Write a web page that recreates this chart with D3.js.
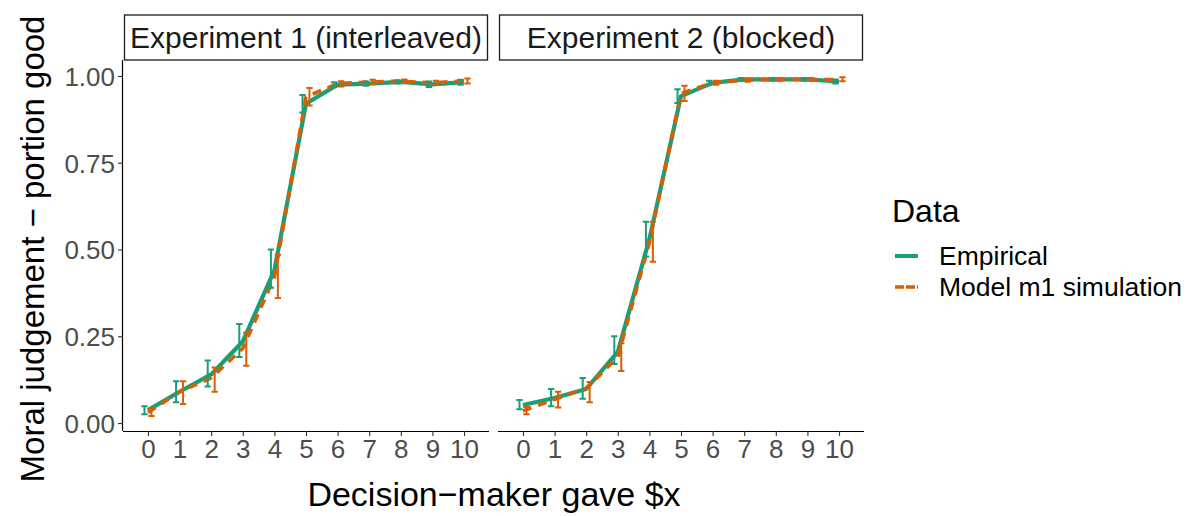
<!DOCTYPE html>
<html>
<head>
<meta charset="utf-8">
<script src="https://cdn.jsdelivr.net/npm/d3@7"></script>
<style>
  html, body { margin: 0; padding: 0; background: #ffffff; }
  svg { display: block; font-family: "Liberation Sans", Arial, Helvetica, sans-serif; }
</style>
</head>
<body>
<svg id="chart" width="1195" height="516"></svg>
<script>
// Amount given by the decision-maker ($0 to $10)
const amounts = [0, 1, 2, 3, 4, 5, 6, 7, 8, 9, 10];
const xTickLabels = ["0", "1", "2", "3", "4", "5", "6", "7", "8", "9", "10"];
const yTicks = [0, 0.25, 0.5, 0.75, 1];
const yTickLabels = ["0.00", "0.25", "0.50", "0.75", "1.00"];
const panelTitles = ["Experiment 1 (interleaved)", "Experiment 2 (blocked)"];
const seriesNames = ["Empirical", "Model m1 simulation"];

// Experiment 1 (interleaved): proportion judged "good", with interval bounds
const emp1   = [0.037, 0.090, 0.140, 0.235, 0.440, 0.920, 0.975, 0.978, 0.983, 0.976, 0.982];
const emp1Lo = [0.025, 0.060, 0.105, 0.190, 0.390, 0.895, 0.968, 0.972, 0.978, 0.968, 0.975];
const emp1Hi = [0.048, 0.120, 0.180, 0.285, 0.500, 0.945, 0.982, 0.984, 0.988, 0.984, 0.989];
const mod1   = [0.030, 0.090, 0.130, 0.215, 0.420, 0.940, 0.978, 0.983, 0.985, 0.980, 0.986];
const mod1Lo = [0.020, 0.055, 0.090, 0.165, 0.360, 0.915, 0.970, 0.977, 0.980, 0.974, 0.978];
const mod1Hi = [0.042, 0.120, 0.160, 0.260, 0.485, 0.965, 0.985, 0.989, 0.990, 0.986, 0.993];

// Experiment 2 (blocked)
const emp2   = [0.052, 0.072, 0.098, 0.205, 0.530, 0.942, 0.980, 0.990, 0.990, 0.990, 0.984];
const emp2Lo = [0.040, 0.048, 0.070, 0.170, 0.480, 0.922, 0.975, 0.986, 0.986, 0.986, 0.978];
const emp2Hi = [0.066, 0.098, 0.130, 0.250, 0.580, 0.962, 0.986, 0.994, 0.994, 0.994, 0.990];
const mod2   = [0.035, 0.068, 0.100, 0.190, 0.520, 0.950, 0.980, 0.988, 0.990, 0.990, 0.990];
const mod2Lo = [0.025, 0.045, 0.060, 0.150, 0.465, 0.928, 0.975, 0.983, 0.986, 0.986, 0.985];
const mod2Hi = [0.046, 0.090, 0.118, 0.230, 0.580, 0.972, 0.986, 0.993, 0.994, 0.994, 0.996];

const colors = ["#1b9e77", "#d95f02"];
const dodge = [-0.11, 0.11];   // error bars are dodged, lines are not
const capHalf = 0.1;

const panels = [
  { title: panelTitles[0], series: [
      { mean: emp1, lo: emp1Lo, hi: emp1Hi },
      { mean: mod1, lo: mod1Lo, hi: mod1Hi } ] },
  { title: panelTitles[1], series: [
      { mean: emp2, lo: emp2Lo, hi: emp2Hi },
      { mean: mod2, lo: mod2Lo, hi: mod2Hi } ] }
];

const svg = d3.select("#chart");
const panelLeft = [123, 498];
const panelW = 366;
const plotTop = 60, plotBottom = 431;
const stripTop = 15;

const y = d3.scaleLinear().domain([-0.023, 1.046]).range([plotBottom, plotTop]);

panels.forEach((p, i) => {
  const left = panelLeft[i];
  const x = d3.scaleLinear().domain([-0.79, 10.79]).range([left, left + panelW]);
  const g = svg.append("g");

  // Facet strip
  g.append("rect")
    .attr("x", left + 1.5).attr("y", stripTop)
    .attr("width", panelW - 3).attr("height", plotTop - stripTop)
    .attr("fill", "#ffffff").attr("stroke", "#1a1a1a").attr("stroke-width", 1.3);
  g.append("text")
    .attr("x", left + panelW / 2).attr("y", stripTop + 33)
    .attr("text-anchor", "middle").attr("font-size", 30).attr("fill", "#1a1a1a")
    .text(p.title);

  // Bottom axis
  const xAxis = d3.axisBottom(x).tickValues(amounts)
    .tickFormat((d, k) => xTickLabels[k]).tickSize(5).tickPadding(4);
  const gx = g.append("g").attr("transform", `translate(0,${plotBottom})`).call(xAxis);
  gx.select(".domain").attr("stroke", "#000").attr("stroke-width", 1.2)
    .attr("d", `M${left},0.5H${left + panelW}`);
  gx.selectAll(".tick line").attr("stroke", "#333").attr("stroke-width", 1.1);
  gx.selectAll(".tick text").attr("font-size", 26).attr("fill", "#4d4d4d")
    .attr("font-family", "\"Liberation Sans\", Arial, sans-serif");

  // Left axis only on the first panel
  if (i === 0) {
    const yAxis = d3.axisLeft(y).tickValues(yTicks)
      .tickFormat((d, k) => yTickLabels[k]).tickSize(5).tickPadding(3);
    const gy = g.append("g").attr("transform", `translate(${left},0)`).call(yAxis);
    gy.select(".domain").attr("stroke", "#000").attr("stroke-width", 1.2)
      .attr("d", `M-0.5,${plotTop}V${plotBottom}`);
    gy.selectAll(".tick line").attr("stroke", "#333").attr("stroke-width", 1.1);
    gy.selectAll(".tick text").attr("font-size", 26).attr("fill", "#4d4d4d")
      .attr("dy", "0.36em")
      .attr("font-family", "\"Liberation Sans\", Arial, sans-serif");
  }

  // Lines (model dashed, drawn over empirical)
  p.series.forEach((s, si) => {
    const line = d3.line()
      .x((d, k) => x(amounts[k]))
      .y(d => y(d));
    g.append("path")
      .datum(s.mean)
      .attr("d", line)
      .attr("fill", "none")
      .attr("stroke", colors[si])
      .attr("stroke-width", si === 0 ? 4.2 : 3.6)
      .attr("stroke-dasharray", si === 0 ? null : "9,7")
      .attr("stroke-linejoin", "round");
  });

  // Error bars
  p.series.forEach((s, si) => {
    const eb = g.append("g").attr("stroke", colors[si]).attr("stroke-width", 2).attr("fill", "none");
    amounts.forEach((a, k) => {
      const cx = a + dodge[si];
      eb.append("path").attr("d",
        `M${x(cx - capHalf)},${y(s.hi[k])}H${x(cx + capHalf)}` +
        `M${x(cx)},${y(s.hi[k])}V${y(s.lo[k])}` +
        `M${x(cx - capHalf)},${y(s.lo[k])}H${x(cx + capHalf)}`);
    });
  });
});

// Axis titles
svg.append("text")
  .attr("x", 494).attr("y", 506)
  .attr("text-anchor", "middle").attr("font-size", 34).attr("fill", "#000")
  .text("Decision\u2212maker gave $x");
svg.append("text")
  .attr("transform", `translate(44,249) rotate(-90)`)
  .attr("text-anchor", "middle").attr("font-size", 33).attr("fill", "#000")
  .text("Moral judgement \u2212 portion good");

// Legend
const lg = svg.append("g");
lg.append("text").attr("x", 892).attr("y", 222)
  .attr("font-size", 32).attr("fill", "#000").text("Data");
seriesNames.forEach((name, k) => {
  const ky = 256 + k * 31;
  lg.append("line")
    .attr("x1", 895).attr("x2", 918).attr("y1", ky).attr("y2", ky)
    .attr("stroke", colors[k]).attr("stroke-width", k === 0 ? 4 : 3.6)
    .attr("stroke-dasharray", k === 0 ? null : "9,2");
  lg.append("text").attr("x", 939).attr("y", ky + 9)
    .attr("font-size", 26.5).attr("fill", "#000").text(name);
});
</script>
</body>
</html>
